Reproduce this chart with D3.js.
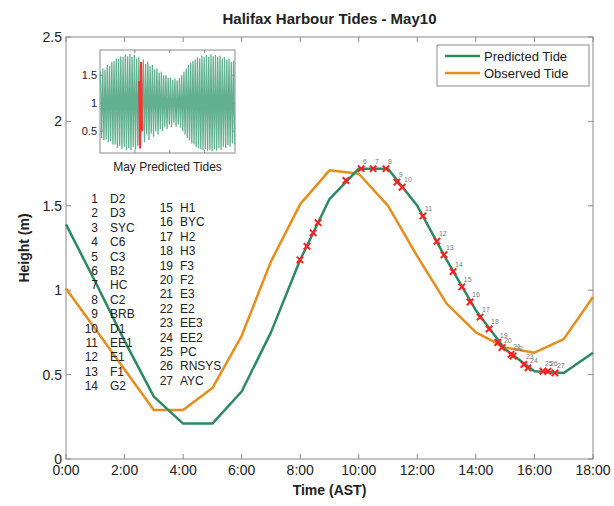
<!DOCTYPE html>
<html>
<head>
<meta charset="utf-8">
<script src="https://cdn.jsdelivr.net/npm/d3@7"></script>
<style>
  body { margin: 0; background: #fff; }
  svg { font-family: "Liberation Sans", Arial, sans-serif; }
</style>
</head>
<body>
<svg id="chart" width="614" height="506"></svg>
<script>
// Hourly tide heights for May 10 (m), 0:00 to 18:00 AST
const hours = [0,1,2,3,4,5,6,7,8,9,10,11,12,13,14,15,16,17,18];
const predicted = [1.39,1.05,0.70,0.37,0.21,0.21,0.40,0.75,1.18,1.54,1.72,1.72,1.50,1.18,0.88,0.65,0.52,0.51,0.63];
const observed  = [1.01,0.77,0.53,0.29,0.29,0.42,0.73,1.17,1.51,1.71,1.69,1.50,1.20,0.92,0.75,0.66,0.63,0.71,0.96];

// Station readings along the predicted curve: time (h) and height (m)
const stationNum   = [1,2,3,4,5,6,7,8,9,10,11,12,13,14,15,16,17,18,19,20,21,22,23,24,25,26,27];
const stationTime  = [7.99,8.23,8.44,8.61,9.56,10.08,10.49,10.93,11.30,11.48,12.19,12.67,12.91,13.22,13.52,13.80,14.14,14.45,14.75,14.89,15.20,15.27,15.64,15.78,16.29,16.46,16.70];
const stationHeight= [1.18,1.26,1.34,1.40,1.65,1.72,1.72,1.72,1.64,1.61,1.44,1.29,1.21,1.11,1.02,0.93,0.84,0.77,0.69,0.66,0.62,0.61,0.56,0.54,0.52,0.52,0.51];
const stationName  = ["D2","D3","SYC","C6","C3","B2","HC","C2","BRB","D1","EE1","E1","F1","G2",
                      "H1","BYC","H2","H3","F3","F2","E3","E2","EE3","EE2","PC","RNSYS","AYC"];

// May predicted high and low waters (m), one per tidal cycle
const mayHighs = [1.56,1.62,1.60,1.68,1.66,1.74, 1.75,1.80,1.79,1.84,1.82,1.87,
                  1.84,1.88,1.83,1.86,1.80,1.82, 1.72,1.78,1.70,1.74,1.66,1.68,
                  1.60,1.62,1.55,1.56,1.50,1.50, 1.45,1.46,1.42,1.44,1.41,1.45,
                  1.50,1.56,1.62,1.68,1.72,1.76, 1.78,1.82,1.80,1.85,1.82,1.86,
                  1.83,1.87,1.84,1.86,1.82,1.85, 1.80,1.82,1.77,1.80,1.74,1.76];
const mayLows  = [0.38,0.34,0.36,0.30,0.32,0.26, 0.26,0.20,0.24,0.18,0.22,0.16,
                  0.20,0.16,0.22,0.17,0.24,0.21, 0.50,0.30,0.44,0.34,0.46,0.40,
                  0.50,0.44,0.54,0.50,0.58,0.54, 0.62,0.57,0.65,0.58,0.62,0.56,
                  0.50,0.44,0.38,0.34,0.28,0.26, 0.22,0.20,0.18,0.16,0.18,0.15,
                  0.17,0.14,0.18,0.15,0.20,0.17, 0.22,0.20,0.25,0.22,0.28,0.26];
const firstHighDay = 0.123;     // day of first high water in May
const halfCycleDays = 0.2588;   // high-to-low spacing (6.21 h)
const tideDay = 9;              // May 10, zero-based day index

const xTicks = [0,2,4,6,8,10,12,14,16,18];
const yTicks = [0,0.5,1,1.5,2,2.5];
const insetYTicks = [0.5,1,1.5];
const insetXTicks = [8,16,24];

const greenMain = "#2b8a64";
const orangeMain = "#e58e1c";
const insetGreen = "#62b090";
const frameGray = "#8a8a8a";

const svg = d3.select("#chart");
const M = {left: 66, right: 593, top: 37, bottom: 459};

const x = d3.scaleLinear().domain([0, 18]).range([M.left, M.right]);
const y = d3.scaleLinear().domain([0, 2.5]).range([M.bottom, M.top]);

// Plot frame
svg.append("rect").attr("x", M.left).attr("y", M.top)
  .attr("width", M.right - M.left).attr("height", M.bottom - M.top)
  .attr("fill", "#fff").attr("stroke", frameGray).attr("stroke-width", 1);

// Inward ticks on all four sides
const tickG = svg.append("g").attr("stroke", frameGray).attr("stroke-width", 1);
xTicks.forEach(t => {
  tickG.append("line").attr("x1", x(t)).attr("x2", x(t)).attr("y1", M.bottom).attr("y2", M.bottom - 5);
  tickG.append("line").attr("x1", x(t)).attr("x2", x(t)).attr("y1", M.top).attr("y2", M.top + 5);
});
yTicks.forEach(t => {
  tickG.append("line").attr("x1", M.left).attr("x2", M.left + 5).attr("y1", y(t)).attr("y2", y(t));
  tickG.append("line").attr("x1", M.right).attr("x2", M.right - 5).attr("y1", y(t)).attr("y2", y(t));
});

// Tick labels
const fmtTime = h => `${h}:00`;
svg.append("g").selectAll("text").data(xTicks).join("text")
  .attr("x", d => x(d)).attr("y", M.bottom + 16)
  .attr("text-anchor", "middle").attr("font-size", 14).attr("fill", "#222")
  .text(fmtTime);
svg.append("g").selectAll("text").data(yTicks).join("text")
  .attr("x", M.left - 4).attr("y", d => y(d) + 5)
  .attr("text-anchor", "end").attr("font-size", 14).attr("fill", "#222")
  .text(d => d3.format("~g")(d));

// Axis titles and chart title
svg.append("text").attr("x", (M.left + M.right) / 2).attr("y", 495)
  .attr("text-anchor", "middle").attr("font-size", 14).attr("font-weight", "bold").attr("fill", "#222")
  .text("Time (AST)");
svg.append("text").attr("transform", `translate(29,${(M.top + M.bottom) / 2}) rotate(-90)`)
  .attr("text-anchor", "middle").attr("font-size", 14).attr("font-weight", "bold").attr("fill", "#222")
  .text("Height (m)");
svg.append("text").attr("x", (M.left + M.right) / 2).attr("y", 24)
  .attr("text-anchor", "middle").attr("font-size", 15).attr("font-weight", "bold").attr("fill", "#222")
  .text("Halifax Harbour Tides - May10");

// Tide curves
const line = d3.line().x((d, i) => x(hours[i])).y(d => y(d));
svg.append("path").datum(observed).attr("d", line)
  .attr("fill", "none").attr("stroke", orangeMain).attr("stroke-width", 2.5).attr("stroke-linejoin", "round");
svg.append("path").datum(predicted).attr("d", line)
  .attr("fill", "none").attr("stroke", greenMain).attr("stroke-width", 2.5).attr("stroke-linejoin", "round");

// Station markers (red crosses) with their numbers
const mk = svg.append("g");
stationTime.forEach((t, i) => {
  const cx = x(t), cy = y(stationHeight[i]), s = 3.2;
  mk.append("path")
    .attr("d", `M${cx - s},${cy - s}L${cx + s},${cy + s}M${cx - s},${cy + s}L${cx + s},${cy - s}`)
    .attr("stroke", "#ff1f1f").attr("stroke-width", 2);
  if (stationNum[i] >= 6) {
    mk.append("text").attr("x", cx + 2).attr("y", cy - 5)
      .attr("font-size", 7).attr("fill", "#777").text(stationNum[i]);
  }
});

// Station key
const keyG = svg.append("g").attr("font-size", 12).attr("fill", "#222");
stationName.forEach((name, i) => {
  const col = i < 14 ? 0 : 1;
  const row = col === 0 ? i : i - 14;
  const baseY = col === 0 ? 203 : 212;
  const numX = col === 0 ? 98 : 173;
  const nameX = col === 0 ? 110 : 180;
  keyG.append("text").attr("x", numX).attr("y", baseY + row * 14.4)
    .attr("text-anchor", "end").text(stationNum[i]);
  keyG.append("text").attr("x", nameX).attr("y", baseY + row * 14.4).text(name);
});

// Legend
const lg = svg.append("g");
lg.append("rect").attr("x", 437).attr("y", 45).attr("width", 152).attr("height", 41)
  .attr("fill", "#fff").attr("stroke", frameGray).attr("stroke-width", 1);
[["Predicted Tide", greenMain, 56], ["Observed Tide", orangeMain, 73]].forEach(([label, col, ly]) => {
  lg.append("line").attr("x1", 445).attr("x2", 480).attr("y1", ly).attr("y2", ly)
    .attr("stroke", col).attr("stroke-width", 2.5);
  lg.append("text").attr("x", 484).attr("y", ly + 5).attr("font-size", 13).attr("fill", "#222").text(label);
});

// Inset: May predicted tides
const I = {left: 100, right: 235, top: 50, bottom: 153};
const ix = d3.scaleLinear().domain([0, 31]).range([I.left, I.right]);
const iy = d3.scaleLinear().domain([0.11, 1.95]).range([I.bottom, I.top]);
const inset = svg.append("g");
inset.append("rect").attr("x", I.left).attr("y", I.top)
  .attr("width", I.right - I.left).attr("height", I.bottom - I.top)
  .attr("fill", "#fff").attr("stroke", frameGray).attr("stroke-width", 1);
inset.append("defs").append("clipPath").attr("id", "insetClip")
  .append("rect").attr("x", I.left).attr("y", I.top)
  .attr("width", I.right - I.left).attr("height", I.bottom - I.top);

const extremes = [];
mayHighs.forEach((h, k) => {
  extremes.push({day: firstHighDay + 2 * k * halfCycleDays, v: h});
  extremes.push({day: firstHighDay + (2 * k + 1) * halfCycleDays, v: mayLows[k]});
});
inset.append("path").datum(extremes)
  .attr("clip-path", "url(#insetClip)")
  .attr("d", d3.line().x(d => ix(d.day)).y(d => iy(d.v)))
  .attr("fill", "none").attr("stroke", insetGreen).attr("stroke-width", 1.3);
inset.append("path").datum(predicted)
  .attr("d", d3.line().x((d, i) => ix(tideDay + hours[i] / 24)).y(d => iy(d)))
  .attr("fill", "none").attr("stroke", "#ff3030").attr("stroke-width", 2);

const itG = inset.append("g").attr("stroke", frameGray).attr("stroke-width", 1);
insetYTicks.forEach(t => {
  itG.append("line").attr("x1", I.left).attr("x2", I.left + 3).attr("y1", iy(t)).attr("y2", iy(t));
  itG.append("line").attr("x1", I.right).attr("x2", I.right - 3).attr("y1", iy(t)).attr("y2", iy(t));
});
insetXTicks.forEach(t => {
  itG.append("line").attr("x1", ix(t)).attr("x2", ix(t)).attr("y1", I.bottom).attr("y2", I.bottom - 3);
  itG.append("line").attr("x1", ix(t)).attr("x2", ix(t)).attr("y1", I.top).attr("y2", I.top + 3);
});
inset.append("g").selectAll("text").data(insetYTicks).join("text")
  .attr("x", I.left - 3).attr("y", d => iy(d) + 4)
  .attr("text-anchor", "end").attr("font-size", 11).attr("fill", "#222")
  .text(d => d3.format("~g")(d));
inset.append("text").attr("x", (I.left + I.right) / 2).attr("y", 171)
  .attr("text-anchor", "middle").attr("font-size", 12).attr("fill", "#222")
  .text("May Predicted Tides");
</script>
</body>
</html>
